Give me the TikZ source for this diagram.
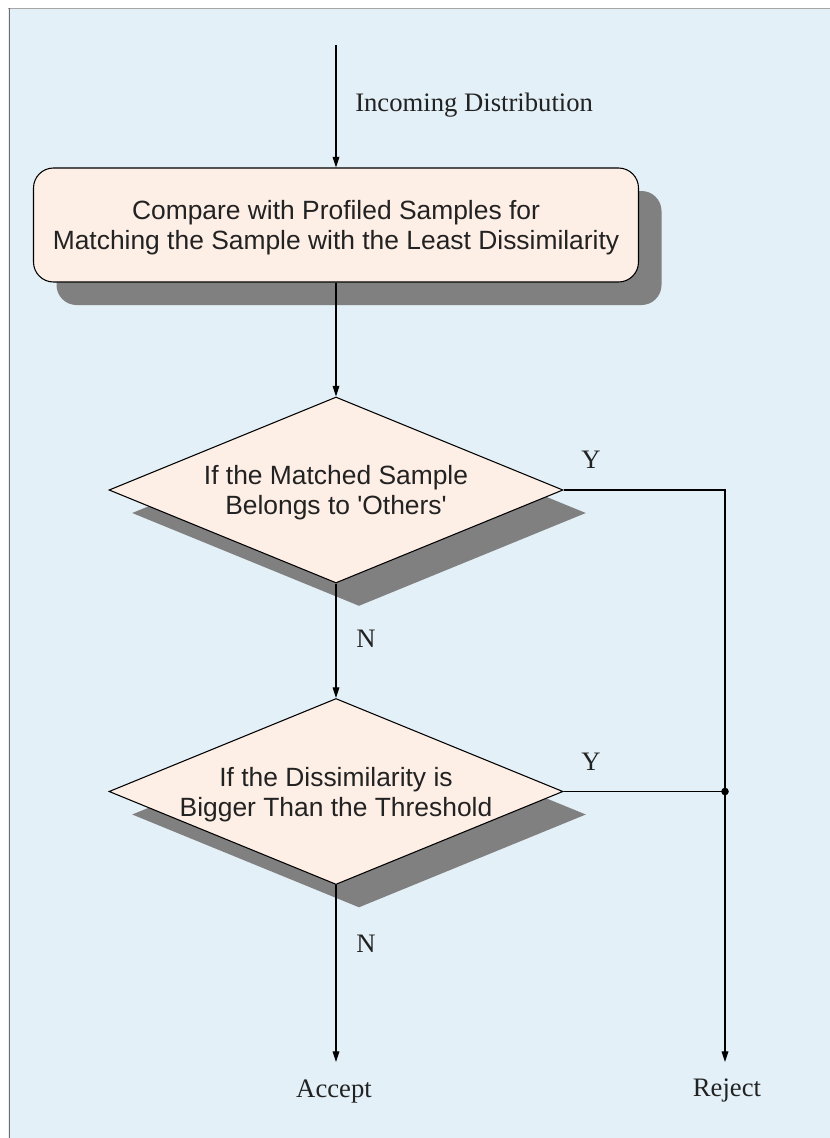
\documentclass[tikz,border=0pt]{standalone}
\usepackage{fontspec}
\setmainfont{Liberation Serif}
\newfontfamily\boxfont{Liberation Sans}
\usetikzlibrary{arrows.meta,shapes.geometric,shadows}

\definecolor{pagebg}{RGB}{227,240,247}
\definecolor{boxfill}{RGB}{253,238,230}
\definecolor{shadowgray}{RGB}{128,128,128}
\definecolor{inkgray}{RGB}{34,34,34}
\definecolor{framegray}{RGB}{110,110,110}

\tikzset{
  flowshadow/.style={drop shadow={opacity=1, fill=shadowgray,
      shadow xshift=17.25pt, shadow yshift=-17.25pt}},
  procbox/.style={draw=black, line width=0.8pt, fill=boxfill, rounded corners=15pt,
      minimum width=453.75pt, minimum height=85.5pt, inner sep=0pt, text depth=0pt,
      align=center, text=inkgray, font=\boxfont\fontsize{19.8pt}{22.5pt}\selectfont,
      flowshadow},
  decision/.style={draw=black, line width=0.8pt, fill=boxfill, diamond, aspect=2.44,
      minimum width=340.5pt, minimum height=139.5pt, inner sep=0pt, text depth=0pt,
      align=center, text=inkgray, font=\boxfont\fontsize{19.8pt}{22.5pt}\selectfont,
      flowshadow},
  lbl/.style={text=inkgray, inner sep=0pt, anchor=base,
      font=\fontsize{20pt}{24pt}\selectfont},
  flow/.style={draw=black, line width=0.85pt},
  arr/.style={flow, -{Triangle[length=8pt, width=5pt]}},
}

\begin{document}
\begin{tikzpicture}[x=0.75pt, y=-0.75pt]
  \useasboundingbox (0,0) rectangle (830,1138);
  % page background and frame
  \fill[pagebg] (8,8) rectangle (830,1138);
  \draw[gray!70, line width=0.8pt] (8,8.5) -- (830,8.5);
  \draw[framegray, line width=1.2pt] (9.5,8) -- (9.5,1138);

  % process step and decisions
  \node[procbox] (cmp) at (336,225)
    {Compare with Profiled Samples for\\Matching the Sample with the Least Dissimilarity};
  \node[decision] (d1) at (336,490) {If the Matched Sample\\Belongs to 'Others'};
  \node[decision] (d2) at (336,791.5) {If the Dissimilarity is\\Bigger Than the Threshold};

  % free ends of connectors
  \coordinate (src) at (336,45);
  \coordinate (acc) at (336,1062);
  \coordinate (rej) at (725,1062);
  \coordinate (join) at (725,791.5);

  % connectors
  \draw[arr] (src) -- (cmp.north);
  \draw[arr] (cmp.south) -- (d1.north);
  \draw[arr] (d1.south) -- (d2.north);
  \draw[arr] (d2.south) -- (acc);
  \draw[arr] (d1.east) -| (rej);
  \draw[flow] (d2.east) -- (join);
  \fill[black] (join) circle[radius=3.8];

  % labels
  \node[lbl, anchor=base west] (lin) at (355,112) {Incoming Distribution};
  \node[lbl] (y1) at (591,468) {Y};
  \node[lbl] (n1) at (366,647) {N};
  \node[lbl] (y2) at (591,770) {Y};
  \node[lbl] (n2) at (366,952) {N};
  \node[lbl] (lacc) at (334,1097) {Accept};
  \node[lbl] (lrej) at (727,1096) {Reject};
\end{tikzpicture}
\end{document}
